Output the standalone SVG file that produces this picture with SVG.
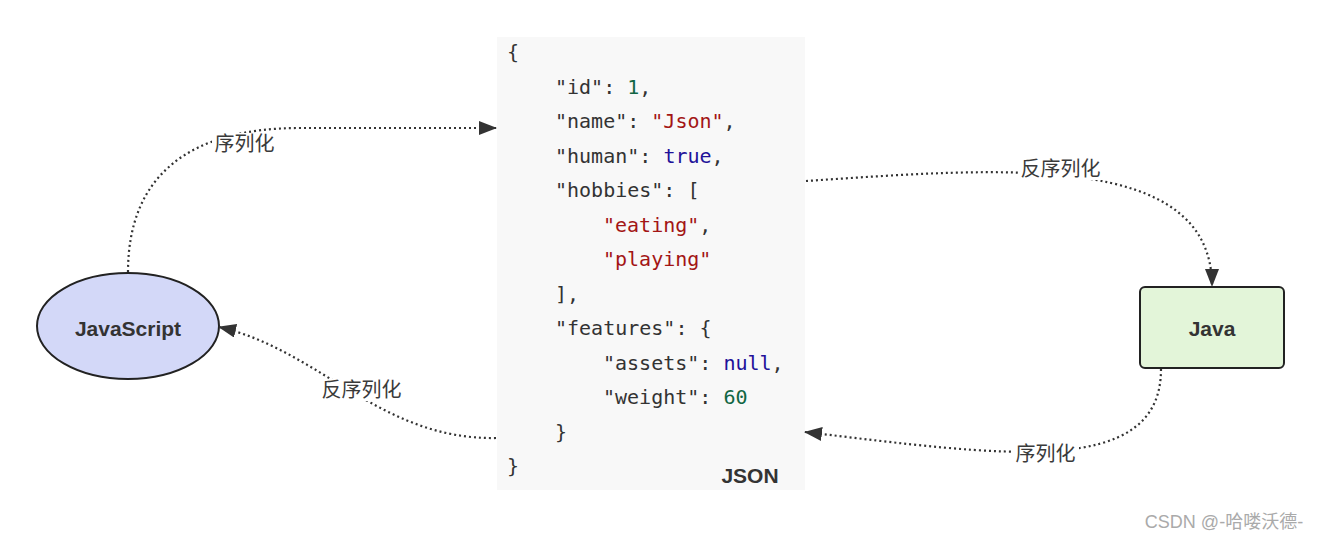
<svg xmlns="http://www.w3.org/2000/svg" width="1321" height="541" viewBox="0 0 1321 541">
<style>
.code{font-family:"DejaVu Sans Mono","Liberation Mono",monospace;font-size:20px;fill:#333}
.s{fill:#a31515}.n{fill:#116644}.k{fill:#221199}
.lbl{font-family:"Liberation Sans","Noto Sans CJK SC",sans-serif;font-size:20px;fill:#3a3a3a;text-anchor:middle;dominant-baseline:central}
.node{font-family:"Liberation Sans","Noto Sans",sans-serif;font-size:21px;font-weight:bold;fill:#333;text-anchor:middle;dominant-baseline:central}
.edge{fill:none;stroke:#333;stroke-width:2.2;stroke-dasharray:2 3}
.bg{fill:#fff}
</style>
<defs>
<marker id="arr" markerWidth="18" markerHeight="14" refX="17" refY="7" orient="auto" markerUnits="userSpaceOnUse">
<path d="M0,0 L18,7 L0,14 Z" fill="#333"/>
</marker>
</defs>
<rect width="1321" height="541" fill="#fff"/>

<g id="json">
<rect x="497" y="37" width="308" height="453" fill="#f8f8f8"/>
<text class="code" x="507" y="59">{</text>
<text class="code" x="555" y="94">"id": <tspan class="n">1</tspan>,</text>
<text class="code" x="555" y="128">"name": <tspan class="s">"Json"</tspan>,</text>
<text class="code" x="555" y="163">"human": <tspan class="k">true</tspan>,</text>
<text class="code" x="555" y="197">"hobbies": [</text>
<text class="code s" x="603" y="232">"eating"<tspan style="fill:#333">,</tspan></text>
<text class="code s" x="603" y="266">"playing"</text>
<text class="code" x="555" y="301">],</text>
<text class="code" x="555" y="335">"features": {</text>
<text class="code" x="603" y="370">"assets": <tspan class="k">null</tspan>,</text>
<text class="code" x="603" y="404">"weight": <tspan class="n">60</tspan></text>
<text class="code" x="555" y="439">}</text>
<text class="code" x="507" y="473">}</text>
<text class="node" x="750" y="475">JSON</text>
</g>

<g id="javascript">
<ellipse cx="128" cy="326" rx="91" ry="53" fill="#d3d8f8" stroke="#222" stroke-width="2"/>
<text class="node" x="128" y="328">JavaScript</text>
</g>

<g id="java">
<rect x="1140" y="287" width="144" height="81" rx="5" fill="#e3f5d9" stroke="#222" stroke-width="2"/>
<text class="node" x="1212" y="328">Java</text>
</g>

<g id="connectors">
<path class="edge" d="M128,272 C128,175 190,128 300,128 L496,128" marker-end="url(#arr)"/>
<rect class="bg" x="212" y="133" width="66" height="22"/>
<text class="lbl" x="244.5" y="144">序列化</text>

<path class="edge" d="M806,181 C1000,168 1212,150 1212,286" marker-end="url(#arr)"/>
<rect class="bg" x="1018" y="158" width="86" height="22"/>
<text class="lbl" x="1060.5" y="169">反序列化</text>

<path class="edge" d="M1161,369 C1161,480 1000,455 805,432" marker-end="url(#arr)"/>
<rect class="bg" x="1013" y="443" width="66" height="22"/>
<text class="lbl" x="1045.5" y="454">序列化</text>

<path class="edge" d="M496,438 C380,440 320,350 219,327" marker-end="url(#arr)"/>
<rect class="bg" x="319" y="379" width="86" height="22"/>
<text class="lbl" x="361.5" y="390">反序列化</text>
</g>

<text x="1224" y="522" style="font-family:'Liberation Sans','Noto Sans CJK SC',sans-serif;font-size:18px;fill:#aaa;text-anchor:middle;dominant-baseline:central">CSDN @-哈喽沃德-</text>
</svg>
